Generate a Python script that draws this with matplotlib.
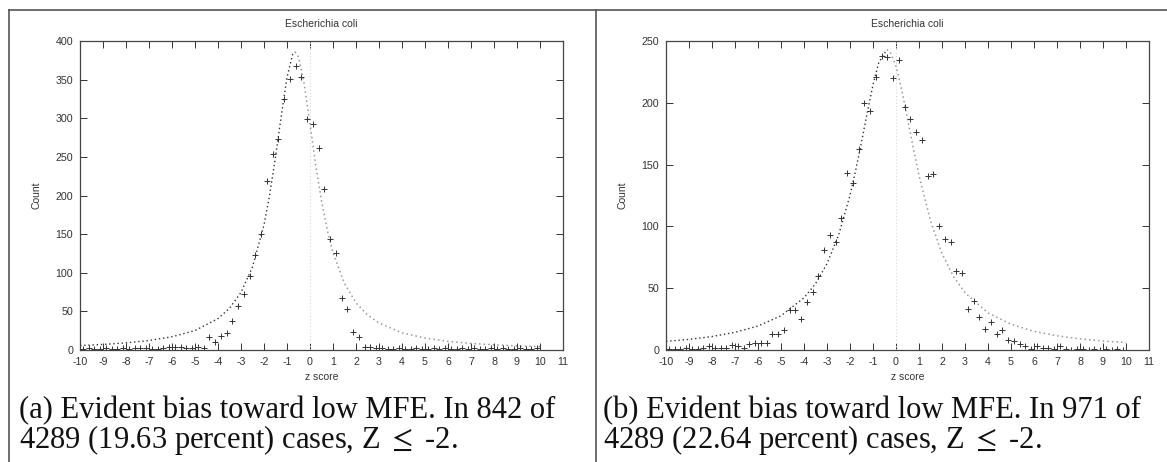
import numpy as np
import matplotlib.pyplot as plt
from matplotlib.lines import Line2D

W, H = 1167, 462

# histogram bin centres (0.25 wide)
z_bins = np.arange(-9.875, 10, 0.25)

counts_a = [1, 2, 1, 1, 2, 1, 1, 3, 1, 2,
            2, 3, 1, 1, 2, 4, 4, 4, 3, 2,
            4, 3, 17, 10, 18, 22, 37, 57, 72, 96,
            123, 150, 219, 254, 273, 325, 351, 368, 354, 299,
            293, 261, 209, 144, 126, 67, 53, 23, 17, 4,
            4, 2, 3, 1, 1, 2, 1, 1, 2, 1,
            1, 2, 1, 3, 1, 1, 2, 1, 3, 1,
            1, 2, 1, 3, 1, 1, 2, 1, 1, 2]

counts_b = [1, 1, 1, 2, 1, 1, 2, 3, 2, 2,
            2, 4, 3, 2, 5, 6, 6, 6, 13, 13,
            16, 32, 32, 25, 39, 47, 60, 81, 93, 87,
            107, 143, 135, 163, 200, 193, 221, 238, 237, 220,
            235, 197, 187, 176, 170, 141, 142, 100, 90, 87,
            64, 62, 33, 40, 27, 17, 23, 13, 16, 8,
            7, 5, 3, 1, 3, 2, 2, 1, 3, 1,
            0, 1, 1, 0, 1, 0, 1, 0, 1, 0]

fit_x_a = [-10, -9, -8, -7, -6, -5, -4, -3.5, -3, -2.5, -2, -1.75, -1.5, -1.25, -1,
           -0.75, -0.65, -0.5, -0.25, 0, 0.25, 0.5, 0.75, 1, 1.5, 2, 2.5, 3, 4, 5,
           6, 7, 8, 9, 10]
fit_y_a = [5.8, 7.2, 9.2, 12.3, 17.1, 25.2, 40.7, 54, 74.5, 107.5, 162, 201.6, 250, 303, 353,
           383, 386, 379.5, 344, 292.6, 239, 193, 155.5, 126, 86, 61, 45.4, 34.9, 22.2, 15.4,
           11.2, 8.5, 6.7, 5.4, 4.4]

fit_x_b = [-10, -9, -8, -7, -6, -5, -4, -3.5, -3, -2.5, -2, -1.75, -1.5, -1.25, -1,
           -0.75, -0.4, -0.25, 0, 0.25, 0.5, 0.75, 1, 1.5, 2, 2.5, 3, 4, 5, 6,
           7, 8, 9, 10]
fit_y_b = [7.0, 8.6, 10.9, 14.3, 19.4, 27.7, 42.2, 53.6, 69.8, 92.7, 125.2, 145.6, 168.2, 192, 214.6,
           232.5, 243, 241, 229.5, 210.4, 187.3, 163.5, 141.3, 104.5, 78, 59.4, 46.3, 30, 20.8, 15.1,
           11.5, 9.0, 7.3, 6.0]

captions = [["(a) Evident bias toward low MFE. In 842 of",
             "4289 (19.63 percent) cases, Z $\\leq$ -2."],
            ["(b) Evident bias toward low MFE. In 971 of",
             "4289 (22.64 percent) cases, Z $\\leq$ -2."]]

plt.rcParams['font.family'] = ['Liberation Sans', 'DejaVu Sans']
plt.rcParams['mathtext.fontset'] = 'stix'
plt.rcParams['axes.unicode_minus'] = False

fig = plt.figure(figsize=(W / 100, H / 100), dpi=100)


def panel(left_px, counts, fx, fy, peak, ymax, ystep):
    ax = fig.add_axes([left_px / W, 1 - 350 / H, 483 / W, 309 / H])
    fx = np.array(fx)
    fy = np.array(fy)
    ax.axvline(0, color='#d8d8d8', ls=(0, (1, 2)), lw=0.8)
    m = fx <= peak
    ax.plot(fx[m], fy[m], ls=(0, (1, 2)), color='#333333', lw=1)
    m = fx >= peak
    ax.plot(fx[m], fy[m], ls=(0, (1, 2)), color='#999999', lw=1.1)
    ax.plot(z_bins, counts, '+', color='#333333', ms=5, mew=0.7)
    ax.set_xlim(-10, 11)
    ax.set_ylim(0, ymax)
    ax.set_xticks(range(-10, 12))
    ax.set_yticks(range(0, ymax + 1, ystep))
    ax.tick_params(direction='in', top=True, right=True, length=5, width=0.7,
                   labelsize=7.7, colors='#333333', pad=5)
    for s in ax.spines.values():
        s.set_linewidth(0.9)
        s.set_color('#444444')
    ax.set_title('Escherichia coli', fontsize=7.5, color='#333333', pad=10)
    ax.set_xlabel('z score', fontsize=7.5, color='#333333', labelpad=4)
    ax.set_ylabel('Count', fontsize=7.5, color='#333333', labelpad=10)
    return ax


panel(80, counts_a, fit_x_a, fit_y_a, -0.65, 400, 50)
panel(666, counts_b, fit_x_b, fit_y_b, -0.4, 250, 50)

for x0, lines in zip([19, 603], captions):
    for base, line in zip([418, 448], lines):
        fig.text(x0 / W, 1 - base / H, line, fontsize=22, family='Liberation Serif',
                 va='baseline', ha='left', color='#111111')

# page frame of the scan
fig.add_artist(Line2D([9 / W, 1], [1 - 10 / H, 1 - 10 / H], color='#555555', lw=1.2))
fig.add_artist(Line2D([9 / W, 9 / W], [0, 1 - 10 / H], color='#555555', lw=1.2))
fig.add_artist(Line2D([596 / W, 596 / W], [0, 1 - 10 / H], color='#555555', lw=1.2))

fig.savefig('out.png', dpi=100)
